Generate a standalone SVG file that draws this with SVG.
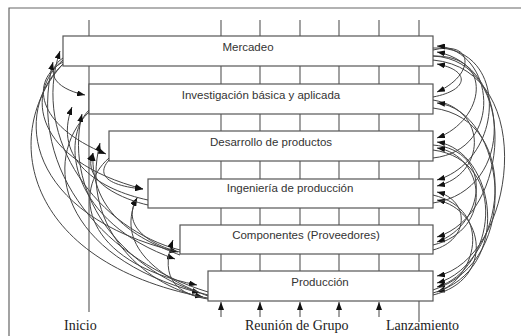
<svg xmlns="http://www.w3.org/2000/svg" width="521" height="336" viewBox="0 0 521 336">
<style>
.frame{fill:none;stroke:#666;stroke-width:1.2}
.vl{stroke:#555;stroke-width:1.1;fill:none}
.box{fill:#fff;stroke:#555;stroke-width:1.2}
.bt{font-family:"Liberation Sans",Arial,sans-serif;font-size:11.5px;fill:#333;text-anchor:middle}
.lab{font-family:"Liberation Serif","Times New Roman",serif;font-size:14px;fill:#222}
.c{fill:none;stroke:#444;stroke-width:1;marker-end:url(#ah)}
</style>
<defs>
<marker id="ah" markerUnits="userSpaceOnUse" markerWidth="8" markerHeight="6" refX="8" refY="3" orient="auto">
<path d="M0,0 L8,3 L0,6 z" fill="#111"/>
</marker>
</defs>
<rect width="521" height="336" fill="#fff"/>
<path class="frame" d="M9,336 V8 H521"/>
<g id="timeline">
<line class="vl" x1="89" y1="20" x2="89" y2="312"/>
<line class="vl" x1="221" y1="20" x2="221" y2="301"/>
<line class="vl" x1="260" y1="20" x2="260" y2="301"/>
<line class="vl" x1="300" y1="20" x2="300" y2="301"/>
<line class="vl" x1="339" y1="20" x2="339" y2="301"/>
<line class="vl" x1="379" y1="20" x2="379" y2="301"/>
<line class="vl" x1="419" y1="20" x2="419" y2="322"/>
</g>
<g id="mercadeo"><rect class="box" x="63" y="36" width="370" height="30"/><text class="bt" x="248" y="51">Mercadeo</text></g>
<g id="investigacion"><rect class="box" x="89" y="84" width="344" height="30"/><text class="bt" x="261" y="99">Investigación básica y aplicada</text></g>
<g id="desarrollo"><rect class="box" x="109" y="131" width="324" height="30"/><text class="bt" x="271" y="146">Desarrollo de productos</text></g>
<g id="ingenieria"><rect class="box" x="148" y="179" width="285" height="29"/><text class="bt" x="290" y="192">Ingeniería de producción</text></g>
<g id="componentes"><rect class="box" x="180" y="225" width="253" height="29"/><text class="bt" x="306" y="239">Componentes (Proveedores)</text></g>
<g id="produccion"><rect class="box" x="208" y="271" width="225" height="30"/><text class="bt" x="320" y="286">Producción</text></g>
<g id="labels">
<text class="lab" x="64" y="330">Inicio</text>
<text class="lab" x="245" y="330">Reunión de Grupo</text>
<text class="lab" x="386" y="330">Lanzamiento</text>
</g>
<g id="connectors">
<line class="c" x1="221" y1="317" x2="221" y2="302"/>
<line class="c" x1="260" y1="317" x2="260" y2="302"/>
<line class="c" x1="300" y1="317" x2="300" y2="302"/>
<line class="c" x1="339" y1="317" x2="339" y2="302"/>
<line class="c" x1="379" y1="317" x2="379" y2="302"/>
<!-- left side -->
<path class="c" d="M63,58 C45,70 52,88 85,95"/>
<path class="c" d="M63,62 C30,80 35,125 106,154"/>
<path class="c" d="M63,60 C25,92 32,160 143,189"/>
<path class="c" d="M63,64 C12,112 25,215 178,252"/>
<path class="c" d="M63,64 C0,132 22,262 203,297"/>
<path class="c" d="M89,110 C60,140 70,222 175,259"/>
<path class="c" d="M89,112 C40,160 60,257 200,293"/>
<path class="c" d="M109,158 C72,190 82,262 197,285"/>
<path class="c" d="M109,160 C95,176 110,186 143,189"/>
<path class="c" d="M208,292 C110,262 25,175 53,62"/>
<path class="c" d="M180,250 C100,230 30,140 60,51"/>
<path class="c" d="M148,200 C100,190 52,160 72,107"/>
<path class="c" d="M208,295 C130,275 62,200 82,114"/>
<path class="c" d="M180,255 C140,240 90,215 93,153"/>
<path class="c" d="M208,298 C150,290 78,230 100,143"/>
<path class="c" d="M208,296 C170,282 112,250 137,198"/>
<path class="c" d="M180,252 C160,248 118,230 137,198"/>
<path class="c" d="M208,299 C180,295 158,280 173,240"/>
<path class="c" d="M148,205 C125,200 80,182 93,153"/>
<!-- right side -->
<path class="c" d="M433,50 C475,40 475,75 437,92"/>
<path class="c" d="M433,56 C495,55 485,120 437,138"/>
<path class="c" d="M433,48 C510,45 505,160 437,180"/>
<path class="c" d="M433,56 C520,60 510,215 437,237"/>
<path class="c" d="M433,60 C540,70 515,260 437,276"/>
<path class="c" d="M433,100 C490,110 485,175 437,186"/>
<path class="c" d="M433,108 C525,120 505,265 437,283"/>
<path class="c" d="M433,145 C495,150 485,225 437,242"/>
<path class="c" d="M433,150 C510,160 495,270 437,287"/>
<path class="c" d="M433,195 C495,210 475,280 437,292"/>
<path class="c" d="M433,97 C470,90 470,70 437,64"/>
<path class="c" d="M433,290 C525,260 505,110 437,103"/>
<path class="c" d="M433,245 C495,230 485,155 437,148"/>
<path class="c" d="M433,295 C495,280 485,210 437,200"/>
<path class="c" d="M433,293 C515,270 495,150 437,142"/>
<path class="c" d="M433,250 C470,240 470,200 437,192"/>
<path class="c" d="M433,158 C505,150 495,50 437,46"/>
<path class="c" d="M433,203 C518,190 510,65 437,52"/>
</g>
</svg>
